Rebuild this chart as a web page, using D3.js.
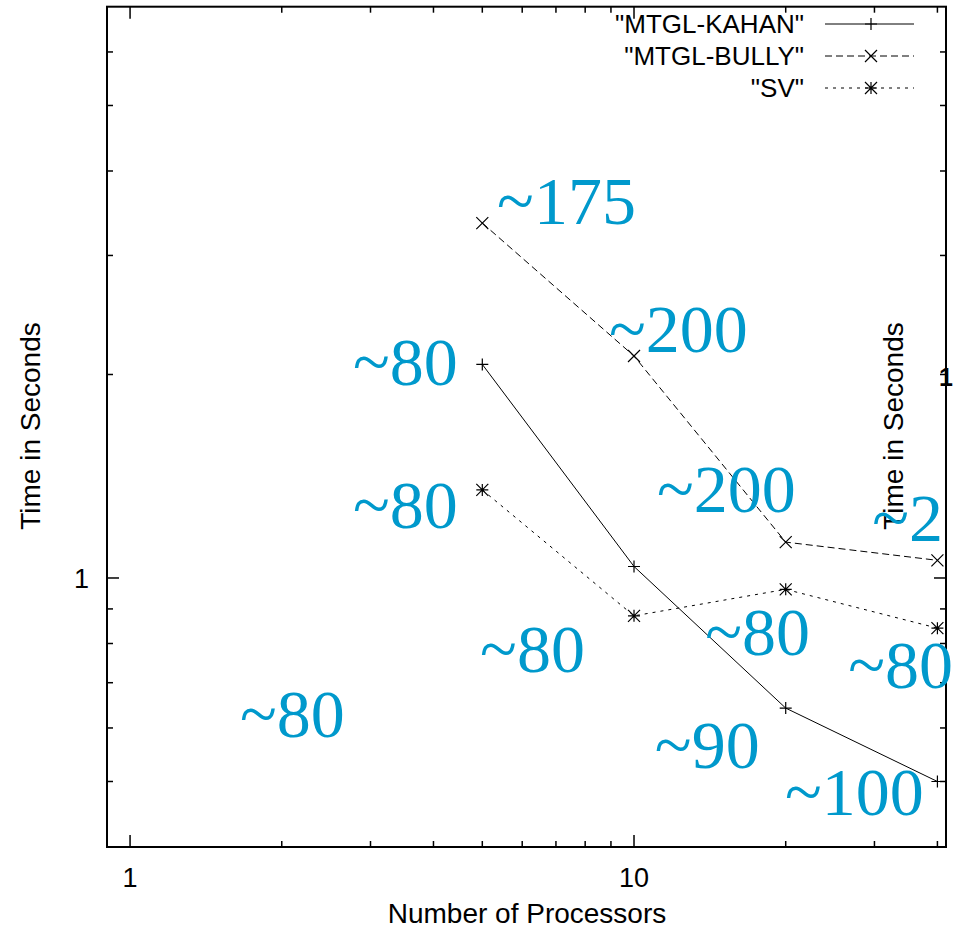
<!DOCTYPE html>
<html><head><meta charset="utf-8">
<script src="https://cdn.jsdelivr.net/npm/d3@7"></script>
<style>html,body{margin:0;padding:0;background:#fff;overflow:hidden}</style>
</head><body>
<script>
const processors = [5, 10, 20, 40];
const kahan = [2.07, 1.04, 0.642, 0.50];
const bully = [3.35, 2.13, 1.13, 1.062];
const sv = [1.35, 0.879, 0.962, 0.843];
const seriesNames = ['"MTGL-KAHAN"', '"MTGL-BULLY"', '"SV"'];
const xMajorTicks = [1, 10];
const xMinorTicks = [2,3,4,5,6,7,8,9,20,30,40];
const yMajorTicks = [1];
const yMinorTicks = [0.5,0.6,0.7,0.8,0.9,2,3,4,5,6];
const annotationText = ["~175", "~200", "~80", "~200", "~80", "~80", "~80", "~80", "~80", "~90", "~100", "~2"];
const annotationX = [5.35, 8.92, 2.77, 11.11, 2.77, 4.95, 13.84, 26.6, 1.653, 11.0, 19.94, 29.7];
const annotationY = [3.34, 2.16, 1.93, 1.252, 1.186, 0.726, 0.769, 0.688, 0.582, 0.524, 0.446, 1.134];

const W = 958, H = 930;
const svg = d3.select("body").append("svg").attr("width", W).attr("height", H);
const x = d3.scaleLog().domain([0.9, 41.6]).range([107, 946]);
const y = d3.scaleLog().domain([0.4, 7]).range([847, 6.7]);
const L = 107, R = 946, T = 6.7, B = 847;
const sans = "'Liberation Sans', Arial, Helvetica, sans-serif";
const serif = "'Liberation Serif', 'Times New Roman', serif";

// ticks (mirrored)
const tk = svg.append("g").attr("stroke", "#000").attr("stroke-width", 1.5);
function xt(v, len){ tk.append("line").attr("x1", x(v)).attr("x2", x(v)).attr("y1", B).attr("y2", B-len);
  tk.append("line").attr("x1", x(v)).attr("x2", x(v)).attr("y1", T).attr("y2", T+len); }
function yt(v, len){ tk.append("line").attr("y1", y(v)).attr("y2", y(v)).attr("x1", L).attr("x2", L+len);
  tk.append("line").attr("y1", y(v)).attr("y2", y(v)).attr("x1", R).attr("x2", R-len); }
xMajorTicks.forEach(v => xt(v, 12)); xMinorTicks.forEach(v => xt(v, 6));
yMajorTicks.forEach(v => yt(v, 12)); yMinorTicks.forEach(v => yt(v, 6));

// border
svg.append("rect").attr("x", L).attr("y", T).attr("width", R-L).attr("height", B-T)
  .attr("fill", "none").attr("stroke", "#000").attr("stroke-width", 2);

// tick labels
svg.selectAll(".xl").data(xMajorTicks).enter().append("text")
  .attr("x", d => x(d)).attr("y", 887).attr("text-anchor", "middle")
  .attr("font-family", sans).attr("font-size", 27).text(d => d);
svg.selectAll(".yl").data(yMajorTicks).enter().append("text")
  .attr("x", 89).attr("y", d => y(d)+10).attr("text-anchor", "end")
  .attr("font-family", sans).attr("font-size", 27).text(d => d);

// axis titles
svg.append("text").attr("x", 527).attr("y", 923).attr("text-anchor", "middle")
  .attr("font-family", sans).attr("font-size", 28).text("Number of Processors");
svg.append("text").attr("transform", "translate(40,426) rotate(-90)").attr("text-anchor", "middle")
  .attr("font-family", sans).attr("font-size", 28).text("Time in Seconds");

// series
const series = [
  {name: seriesNames[0], vals: kahan, dash: null, mk: "plus"},
  {name: seriesNames[1], vals: bully, dash: "7,4", mk: "cross"},
  {name: seriesNames[2], vals: sv, dash: "3,5", mk: "star"}
];
const line = d3.line().x(d => x(d[0])).y(d => y(d[1]));
function marker(g, cx, cy, type){
  const s = 6;
  const p = g.append("path").attr("stroke", "#000").attr("stroke-width", 1.2).attr("fill", "none");
  if (type === "plus") p.attr("d", `M${cx-s},${cy}H${cx+s}M${cx},${cy-s}V${cy+s}`);
  else if (type === "cross") p.attr("d", `M${cx-s},${cy-s}L${cx+s},${cy+s}M${cx-s},${cy+s}L${cx+s},${cy-s}`);
  else p.attr("d", `M${cx-s},${cy}H${cx+s}M${cx},${cy-s}V${cy+s}M${cx-s},${cy-s}L${cx+s},${cy+s}M${cx-s},${cy+s}L${cx+s},${cy-s}`);
}
const legY = [24, 56, 88];
series.forEach((s, i) => {
  const pts = processors.map((p, j) => [p, s.vals[j]]);
  const g = svg.append("g");
  g.append("path").attr("d", line(pts)).attr("fill", "none").attr("stroke", "#000")
    .attr("stroke-width", 1).attr("stroke-dasharray", s.dash);
  pts.forEach(p => marker(g, x(p[0]), y(p[1]), s.mk));
  // legend
  svg.append("text").attr("x", 804).attr("y", legY[i]+9).attr("text-anchor", "end")
    .attr("font-family", sans).attr("font-size", 26).text(s.name);
  g.append("line").attr("x1", 825).attr("x2", 914).attr("y1", legY[i]).attr("y2", legY[i])
    .attr("stroke", "#000").attr("stroke-width", 1).attr("stroke-dasharray", s.dash);
  marker(g, 871, legY[i], s.mk);
});

// overlay: second ylabel and partial tick label
svg.append("text").attr("transform", "translate(903,426) rotate(-90)").attr("text-anchor", "middle")
  .attr("font-family", sans).attr("font-size", 28).text("Time in Seconds");
svg.append("text").attr("x", 939).attr("y", 386).attr("font-family", sans)
  .attr("font-size", 25).attr("font-weight", "bold").text("1");

// annotations
svg.selectAll(".ann").data(annotationText).enter().append("text")
  .attr("x", (d, i) => x(annotationX[i])).attr("y", (d, i) => y(annotationY[i]))
  .attr("font-family", serif).attr("font-size", 68).attr("fill", "#0099cc")
  .text(d => d);
</script>
</body></html>
